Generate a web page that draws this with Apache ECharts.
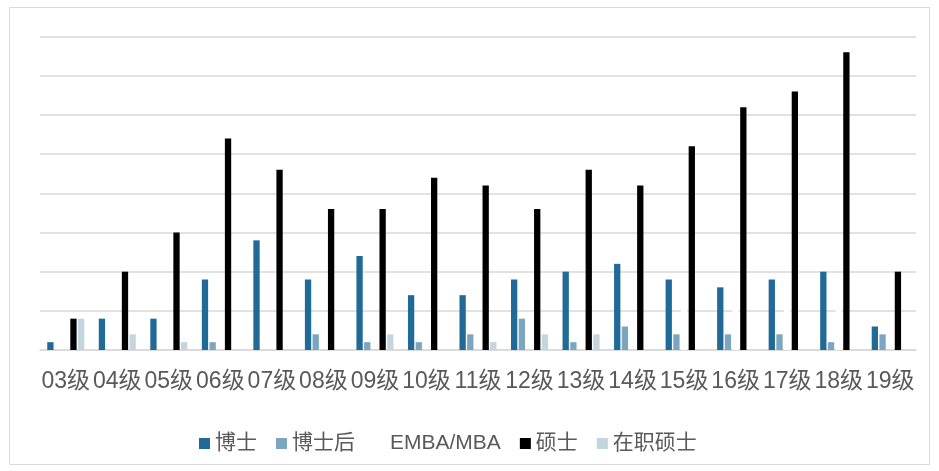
<!DOCTYPE html>
<html><head><meta charset="utf-8">
<script src="https://cdn.jsdelivr.net/npm/echarts@6/dist/echarts.min.js"></script>
<style>html,body{margin:0;padding:0;background:#fff}#c{width:939px;height:471px}</style>
</head><body><div id="c"></div>
<script>
const categories = ['03级','04级','05级','06级','07级','08级','09级','10级','11级','12级','13级','14级','15级','16级','17级','18级','19级'];
const seriesNames = ['博士','博士后','EMBA/MBA','硕士','在职硕士'];
const boshi      = [1,4,4,9,14,9,12,7,7,9,10,11,9,8,9,10,3];
const boshihou   = [0,0,0,1,0,2,1,1,2,4,1,3,2,2,2,1,2];
const emba       = [0,0,0,0,0,0,0,0,0,0,0,0,6,6,6,6,0];
const shuoshi    = [4,10,15,27,23,18,18,22,21,18,23,21,26,31,33,38,10];
const zaizhi     = [4,2,1,0,0,0,2,0,1,2,2,0,0,0,0,0,0];
const colors = ['#1f6a96','#7ca5bf','#ffffff','#000000','#c3d6e0'];
const values = [boshi, boshihou, emba, shuoshi, zaizhi];

const chart = echarts.init(document.getElementById('c'), null, {renderer:'canvas'});
chart.setOption({
  animation:false,
  backgroundColor:'#fff',
  graphic:[{type:'rect',shape:{x:9.5,y:7.5,width:920,height:457},style:{fill:'none',stroke:'#d9d9d9',lineWidth:1}}],
  grid:{left:40,right:23,top:36.7,bottom:121,containLabel:false},
  xAxis:{type:'category',data:categories,
    axisLine:{lineStyle:{color:'#d9d9d9',width:1.5}},axisTick:{show:false},
    axisLabel:{interval:0,margin:20,fontSize:23,color:'#595959',fontFamily:'"Liberation Sans","Noto Sans CJK SC",sans-serif'}},
  yAxis:{type:'value',min:0,max:40,interval:5,
    axisLabel:{show:false},axisLine:{show:false},axisTick:{show:false},
    splitLine:{lineStyle:{color:'#d9d9d9',width:1.5}}},
  legend:{left:194,top:428,itemWidth:11,itemHeight:11,itemGap:19,
    icon:'rect',
    textStyle:{fontSize:21,color:'#595959',fontFamily:'"Liberation Sans","Noto Sans CJK SC",sans-serif'},
    data:seriesNames},
  series:seriesNames.map((n,i)=>({
    name:n,type:'bar',data:values[i],barWidth:6.3,barGap:'22%',
    itemStyle:{color:colors[i]}
  }))
});
</script></body></html>
